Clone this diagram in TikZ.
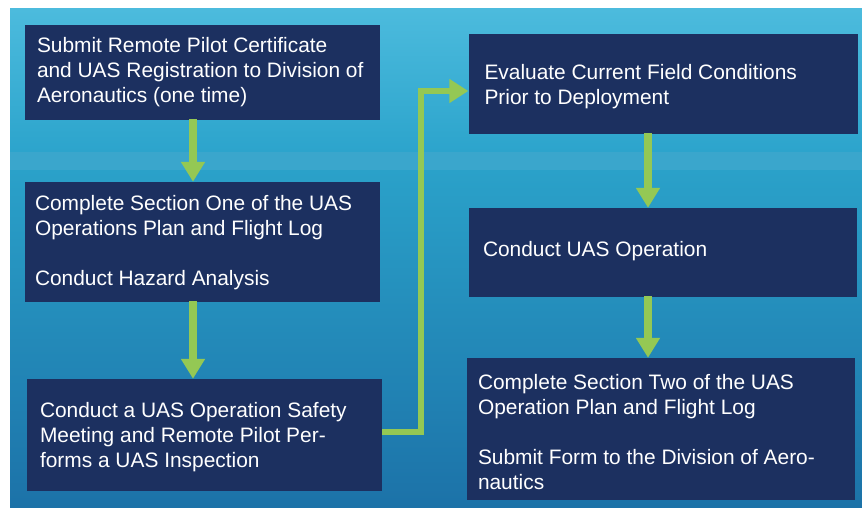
\documentclass[tikz,border=0pt]{standalone}
\usepackage{fontspec}
\setmainfont{Liberation Sans}
\usetikzlibrary{arrows.meta}
\definecolor{navy}{RGB}{28,48,96}
\definecolor{lgreen}{RGB}{148,200,84}
\definecolor{bgtop}{RGB}{76,187,221}
\definecolor{bgmid}{RGB}{44,164,204}
\definecolor{bgband}{RGB}{58,166,204}
\definecolor{bgmid2}{RGB}{42,161,201}
\definecolor{bgbot}{RGB}{28,114,168}
\begin{document}
\begin{tikzpicture}[x=1pt,y=-1pt,
  box/.style={fill=navy,draw=none,inner sep=0pt,anchor=center},
  txt/.style={text=white,font=\fontsize{20.9}{25}\selectfont,align=left,inner sep=0pt,anchor=west},
  garrow/.style={draw=lgreen,line width=8pt,-{Triangle[width=23pt,length=20pt]},shorten <=-1pt},
  gelbow/.style={draw=lgreen,line width=6.5pt,-{Triangle[width=23pt,length=19pt]}}]
\useasboundingbox (0,0) rectangle (862,508);
% background
\shade[top color=bgtop,bottom color=bgmid] (10,9) rectangle (862,152);
\fill[bgband] (10,152) rectangle (862,170);
\shade[top color=bgmid2,bottom color=bgbot] (10,170) rectangle (862,508);
% boxes
\node[box,minimum width=355pt,minimum height=95pt] (b1) at (202.5,72.5) {};
\node[box,minimum width=355pt,minimum height=120pt] (b2) at (202.5,242) {};
\node[box,minimum width=355pt,minimum height=112pt] (b3) at (204.5,435) {};
\node[box,minimum width=389pt,minimum height=100pt] (b4) at (663,84) {};
\node[box,minimum width=388pt,minimum height=89pt] (b5) at (663,252.5) {};
\node[box,minimum width=388pt,minimum height=142pt] (b6) at (661,429) {};
% texts
\node[txt,xshift=12pt,yshift=0pt] (t1) at (b1.west)
  {Submit Remote Pilot Certificate\\and UAS Registration to Division of\\Aeronautics (one time)};
\node[txt,xshift=10pt,yshift=-0.5pt] (t2) at (b2.west)
  {Complete Section One of the UAS\\Operations Plan and Flight Log\\[25pt]Conduct Hazard Analysis};
\node[txt,xshift=13pt,yshift=-2.5pt] (t3) at (b3.west)
  {Conduct a UAS Operation Safety\\Meeting and Remote Pilot Per-\\forms a UAS Inspection};
\node[txt,xshift=16pt,yshift=-3pt] (t4) at (b4.west)
  {Evaluate Current Field Conditions\\Prior to Deployment};
\node[txt,xshift=14pt,yshift=1.5pt] (t5) at (b5.west)
  {Conduct UAS Operation};
\node[txt,xshift=11pt,yshift=-3.5pt] (t6) at (b6.west)
  {Complete Section Two of the UAS\\Operation Plan and Flight Log\\[25pt]Submit Form to the Division of Aero-\\nautics};
% arrow guide coordinates
\coordinate (lx) at (193,0);
\coordinate (rx) at (648,0);
\coordinate (ex) at (421,0);
\coordinate (ey1) at (0,432);
\coordinate (ey2) at (0,91);
% arrows
\draw[garrow] (b1.south -| lx) -- (b2.north -| lx);
\draw[garrow] (b2.south -| lx) -- (b3.north -| lx);
\draw[garrow] (b4.south -| rx) -- (b5.north -| rx);
\draw[garrow] (b5.south -| rx) -- (b6.north -| rx);
\draw[gelbow] (b3.east |- ey1) -- (ex |- ey1) -- (ex |- ey2) -- (b4.west |- ey2);
\end{tikzpicture}
\end{document}
